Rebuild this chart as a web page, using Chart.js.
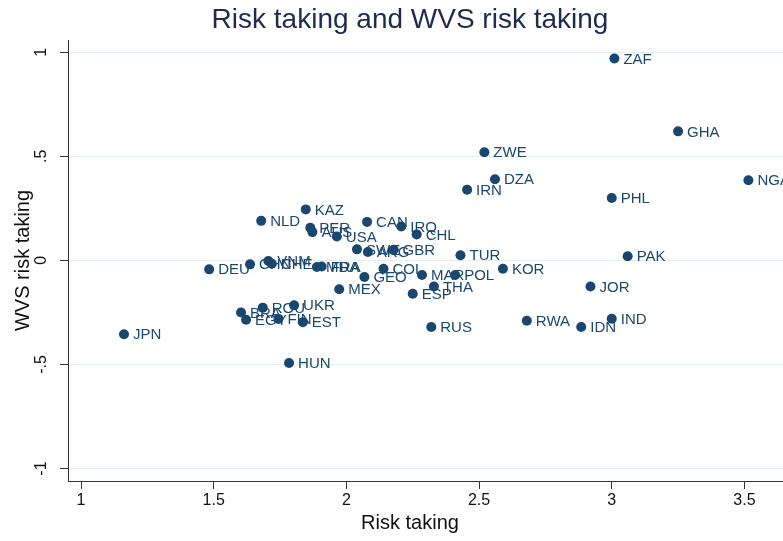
<!DOCTYPE html>
<html>
<head>
<meta charset="utf-8">
<script src="https://cdn.jsdelivr.net/npm/chart.js@4.4.1/dist/chart.umd.min.js"></script>
<style>
  html, body { margin: 0; padding: 0; background: #fff; overflow: hidden; }
  #wrap { width: 820px; height: 541px; }
</style>
</head>
<body>
<div id="wrap"><canvas id="riskChart" width="820" height="541"></canvas></div>
<script>
// Codigos de pais y valores
const countries = ["ZAF", "GHA", "NGA", "ZWE", "DZA", "IRN", "PHL", "PAK", "JOR", "IND",
  "IDN", "RWA", "KOR", "TUR", "POL", "THA", "MAR", "ESP", "RUS", "CHL",
  "IRQ", "CAN", "KAZ", "NLD", "PER", "AUS", "USA", "SWE", "ARG", "GBR",
  "COL", "GEO", "MEX", "DEU", "CHN", "VNM", "CHE", "MDA", "FRA", "BRA",
  "EGY", "ROU", "FIN", "UKR", "EST", "HUN", "JPN"];
const riskTaking = [3.01, 3.25, 3.515, 2.52, 2.56, 2.455, 3.00, 3.06, 2.92, 3.00,
  2.885, 2.68, 2.59, 2.43, 2.41, 2.33, 2.285, 2.25, 2.32, 2.265,
  2.207, 2.078, 1.847, 1.679, 1.864, 1.872, 1.964, 2.04, 2.081, 2.178,
  2.14, 2.068, 1.973, 1.483, 1.637, 1.706, 1.719, 1.889, 1.907, 1.603,
  1.622, 1.685, 1.744, 1.803, 1.836, 1.784, 1.162];
const wvsRiskTaking = [0.97, 0.62, 0.385, 0.52, 0.39, 0.34, 0.30, 0.02, -0.125, -0.28,
  -0.32, -0.29, -0.04, 0.025, -0.07, -0.125, -0.07, -0.16, -0.32, 0.125,
  0.163, 0.185, 0.245, 0.19, 0.157, 0.136, 0.115, 0.053, 0.04, 0.051,
  -0.04, -0.08, -0.139, -0.043, -0.019, -0.003, -0.016, -0.032, -0.029, -0.25,
  -0.285, -0.227, -0.281, -0.216, -0.297, -0.493, -0.355];
const xTicks = [1, 1.5, 2, 2.5, 3, 3.5];
const yTicks = [-1, -0.5, 0, 0.5, 1];

const navy = "#1a476f";
const fontFamily = "'Liberation Sans', Arial, Helvetica, sans-serif";

// formato estilo Stata: .5 en vez de 0.5
const fmt = v => String(v).replace(/^(-?)0\./, "$1.");

// etiquetas de pais a la derecha de cada punto
const pointLabels = {
  id: "pointLabels",
  afterDatasetsDraw(chart) {
    const ctx = chart.ctx;
    const meta = chart.getDatasetMeta(0);
    ctx.save();
    ctx.fillStyle = navy;
    ctx.font = "15px " + fontFamily;
    ctx.textAlign = "left";
    ctx.textBaseline = "middle";
    meta.data.forEach((pt, i) => {
      ctx.fillText(countries[i], pt.x + 9, pt.y + 1);
    });
    ctx.restore();
  }
};

const ctx = document.getElementById("riskChart").getContext("2d");
new Chart(ctx, {
  type: "scatter",
  data: {
    datasets: [{
      data: riskTaking.map((x, i) => ({ x: x, y: wvsRiskTaking[i] })),
      backgroundColor: navy,
      borderWidth: 0,
      pointRadius: 5,
      pointHoverRadius: 5,
    }],
  },
  options: {
    responsive: false,
    animation: false,
    devicePixelRatio: 1,
    layout: { padding: 0 },
    events: [],
    plugins: {
      legend: { display: false },
      tooltip: { enabled: false },
      title: {
        display: true,
        text: "Risk taking and WVS risk taking",
        color: "#1e2b50",
        font: { family: fontFamily, size: 28, weight: "normal" },
        padding: { top: 3, bottom: 3.4 },
      },
      // titulo del eje x (centrado en todo el grafico, como en Stata)
      subtitle: {
        display: true,
        position: "bottom",
        text: "Risk taking",
        color: "#111",
        font: { family: fontFamily, size: 20, weight: "normal" },
        padding: { top: 3, bottom: 6 },
      },
    },
    scales: {
      x: {
        type: "linear",
        min: 0.951,
        max: 3.766,
        afterBuildTicks: s => { s.ticks = xTicks.map(v => ({ value: v })); },
        afterFit: s => { s.height = 27; },
        grid: { drawOnChartArea: false, tickLength: 8, tickColor: "#333" },
        border: { color: "#333", width: 1 },
        ticks: {
          color: "#111",
          font: { family: fontFamily, size: 16 },
          padding: 2,
          maxRotation: 0,
          autoSkip: false,
          callback: v => fmt(v),
        },
      },
      y: {
        type: "linear",
        min: -1.060,
        max: 1.059,
        afterBuildTicks: s => { s.ticks = yTicks.map(v => ({ value: v })); },
        afterFit: s => { s.width = 68; },
        grid: { color: "#e6eef0", lineWidth: 1, tickLength: 8, tickColor: "#333" },
        border: { color: "#333", width: 1 },
        title: {
          display: true,
          text: "WVS risk taking",
          color: "#111",
          font: { family: fontFamily, size: 20, weight: "normal" },
          padding: { top: 11, bottom: 0 },
        },
        ticks: {
          color: "#111",
          font: { family: fontFamily, size: 16 },
          minRotation: 90,
          maxRotation: 90,
          crossAlign: "center",
          padding: 9,
          autoSkip: false,
          callback: v => fmt(v),
        },
      },
    },
  },
  plugins: [pointLabels],
});
</script>
</body>
</html>
